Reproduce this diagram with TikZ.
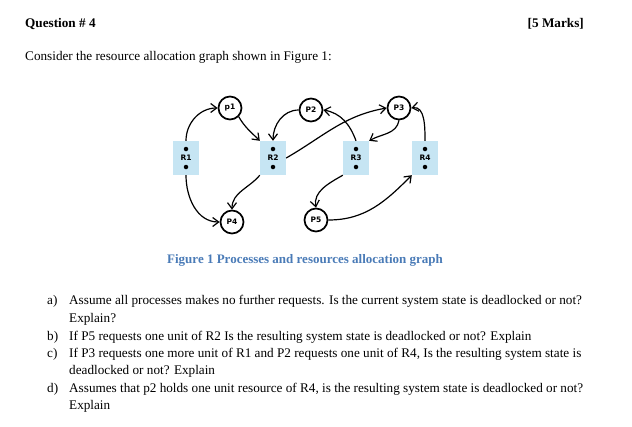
\documentclass[tikz,border=0pt]{standalone}
\usepackage{fontspec}
\setmainfont{Liberation Serif}
\newfontfamily\lblfont{DejaVu Sans}
\usetikzlibrary{arrows.meta}
\definecolor{boxblue}{HTML}{C6E5F3}
\definecolor{capblue}{HTML}{4A7BB7}
\tikzset{
 proc/.style={circle,draw,line width=1.7pt,minimum size=23pt,inner sep=0pt,font=\lblfont\bfseries\fontsize{7.5}{8}\selectfont},
 res/.style={fill=boxblue,minimum width=26pt,minimum height=34pt,inner sep=0pt,font=\lblfont\bfseries\fontsize{7.5}{8}\selectfont},
 edge/.style={-{Straight Barb[length=6pt,width=9pt]},line width=1.2pt},
 txt/.style={anchor=base west,inner sep=0pt,font=\fontsize{13.2}{15}\selectfont},
 dot/.style={circle,fill,inner sep=0pt,minimum size=4.5pt}
}
\begin{document}
\begin{tikzpicture}[x=1pt,y=-1pt]
\useasboundingbox (0,0) rectangle (632,426);
\node[txt,font=\bfseries\fontsize{13.2}{15}\selectfont] (q) at (25,27) {Question \# 4};
\node[txt,anchor=base east,font=\bfseries\fontsize{13.2}{15}\selectfont] (m) at (584,27) {[5 Marks]};
\node[txt] (c) at (25,60) {Consider the resource allocation graph shown in Figure 1:};
% graph
\node[proc] (p1) at (230,108) {p1};
\node[proc] (p2) at (311,110) {P2};
\node[proc] (p3) at (399,108) {P3};
\node[proc] (p4) at (232,222) {P4};
\node[proc] (p5) at (316,220) {P5};
\foreach \n/\x in {R1/186,R2/273,R3/356,R4/425}{
 \node[res] (\n) at (\x,158) {\n};
 \node[dot] (\n a) at (\x,149) {};
 \node[dot] (\n b) at (\x,167) {};
}
\draw[edge] (R1.north) to[out=90,in=180] (p1.west);
\draw[edge] (p1.south east) to[out=-60,in=135] (R2.north west);
\draw[edge] (R2.south west) to[out=-130,in=90] (p4.north);
\draw[edge] (R1.south) to[out=-90,in=180] (p4.west);
\draw[edge] (p2.west) to[out=180,in=90] (R2.north);
\draw[edge] (R3.north) to[out=110,in=-10] (p2.east);
\draw[edge] (R2.east) to[out=30,in=190] (p3.west);
\draw[edge] (p3.south) to[out=-100,in=30] (R3.north east);
\draw[edge] (R4.north) to[out=90,in=10] (p3.east);
\draw[edge] (R3.south west) to[out=-150,in=100] (p5.north);
\draw[edge] (p5.east) to[out=0,in=-135] (R4.south west);
\node[anchor=base,inner sep=0pt,text=capblue,font=\bfseries\fontsize{13}{15}\selectfont] (cap) at (305,263) {Figure 1 Processes and resources allocation graph};
% questions
\node[txt] (la) at (47,304) {a)};
\node[txt] (ta) at (69,304) {Assume all processes makes no further requests. Is the current system state is deadlocked or not?};
\node[txt] (ta2) at (69,322) {Explain?};
\node[txt] (lb) at (47,340) {b)};
\node[txt] (tb) at (69,340) {If P5 requests one unit of R2 Is the resulting system state is deadlocked or not? Explain};
\node[txt] (lc) at (47,357) {c)};
\node[txt] (tc) at (69,357) {If P3 requests one more unit of R1 and P2 requests one unit of R4, Is the resulting system state is};
\node[txt] (tc2) at (69,374) {deadlocked or not? Explain};
\node[txt] (ld) at (47,392) {d)};
\node[txt] (td) at (69,392) {Assumes that p2 holds one unit resource of R4, is the resulting system state is deadlocked or not?};
\node[txt] (td2) at (69,409) {Explain};
\end{tikzpicture}
\end{document}
